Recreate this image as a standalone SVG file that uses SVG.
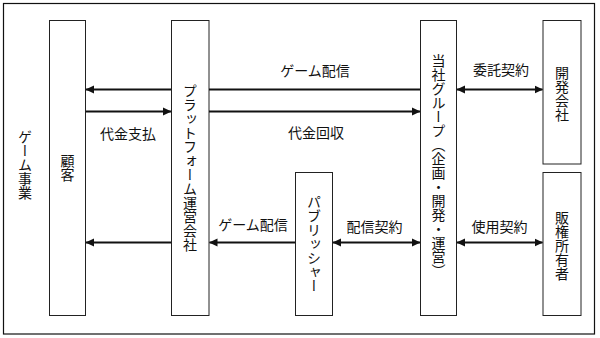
<svg xmlns="http://www.w3.org/2000/svg" width="600" height="338" viewBox="0 0 600 338">
<style>
.box{fill:#fff;stroke:#222;stroke-width:1}
.t{font-family:"Noto Sans CJK JP","Noto Sans CJK SC",sans-serif;font-size:14px;fill:#111}
.h{text-anchor:middle;dominant-baseline:central}
.v{writing-mode:vertical-rl;text-anchor:middle}
.ln{stroke:#111;stroke-width:2;fill:none}
</style>
<defs>
<marker id="ah" markerUnits="userSpaceOnUse" markerWidth="9" markerHeight="9" refX="8" refY="4.5" orient="auto-start-reverse">
<path d="M0,0.5 L8.5,4.5 L0,8.5 z" fill="#111"/>
</marker>
</defs>
<rect x="3.5" y="3.5" width="591" height="330.5" fill="#fff" stroke="#111" stroke-width="1.2"/>
<text class="t v" x="25" y="165">ゲーム事業</text>
<g id="customer">
<rect class="box" x="49.5" y="20.5" width="36" height="295"/>
<text class="t v" x="67.5" y="168">顧客</text>
</g>
<g id="platform">
<rect class="box" x="171.5" y="20.5" width="37.5" height="295"/>
<text class="t v" x="190" y="167.5">プラットフォーム運営会社</text>
</g>
<g id="publisher">
<rect class="box" x="295.5" y="172.5" width="37" height="143"/>
<text class="t v" x="314" y="243.5">パブリッシャー</text>
</g>
<g id="group">
<rect class="box" x="420.5" y="20.5" width="36" height="295"/>
<text class="t v" x="438.5" y="166">当社グループ（企画・開発・運営）</text>
</g>
<g id="developer">
<rect class="box" x="543" y="20.5" width="38" height="143.5"/>
<text class="t v" x="562" y="93.5">開発会社</text>
</g>
<g id="rights">
<rect class="box" x="543" y="172.5" width="38" height="143"/>
<text class="t v" x="562" y="245.5">販権所有者</text>
</g>
<g id="connectors">
<line class="ln" x1="171" y1="89.5" x2="86" y2="89.5" marker-end="url(#ah)"/>
<line class="ln" x1="209" y1="89.5" x2="420" y2="89.5"/>
<line class="ln" x1="457" y1="89.5" x2="542.5" y2="89.5" marker-start="url(#ah)" marker-end="url(#ah)"/>
<line class="ln" x1="86" y1="111.5" x2="171" y2="111.5" marker-end="url(#ah)"/>
<line class="ln" x1="209" y1="111.5" x2="420" y2="111.5" marker-end="url(#ah)"/>
<line class="ln" x1="171" y1="242.5" x2="86" y2="242.5" marker-end="url(#ah)"/>
<line class="ln" x1="295" y1="242.5" x2="209.5" y2="242.5" marker-end="url(#ah)"/>
<line class="ln" x1="333" y1="242.5" x2="420" y2="242.5" marker-start="url(#ah)" marker-end="url(#ah)"/>
<line class="ln" x1="457" y1="242.5" x2="542.5" y2="242.5" marker-start="url(#ah)" marker-end="url(#ah)"/>
<text class="t h" x="315" y="70">ゲーム配信</text>
<text class="t h" x="128" y="132.5">代金支払</text>
<text class="t h" x="316" y="132">代金回収</text>
<text class="t h" x="501" y="69">委託契約</text>
<text class="t h" x="253" y="224">ゲーム配信</text>
<text class="t h" x="374.5" y="225.5">配信契約</text>
<text class="t h" x="499.5" y="225.5">使用契約</text>
</g>
</svg>
